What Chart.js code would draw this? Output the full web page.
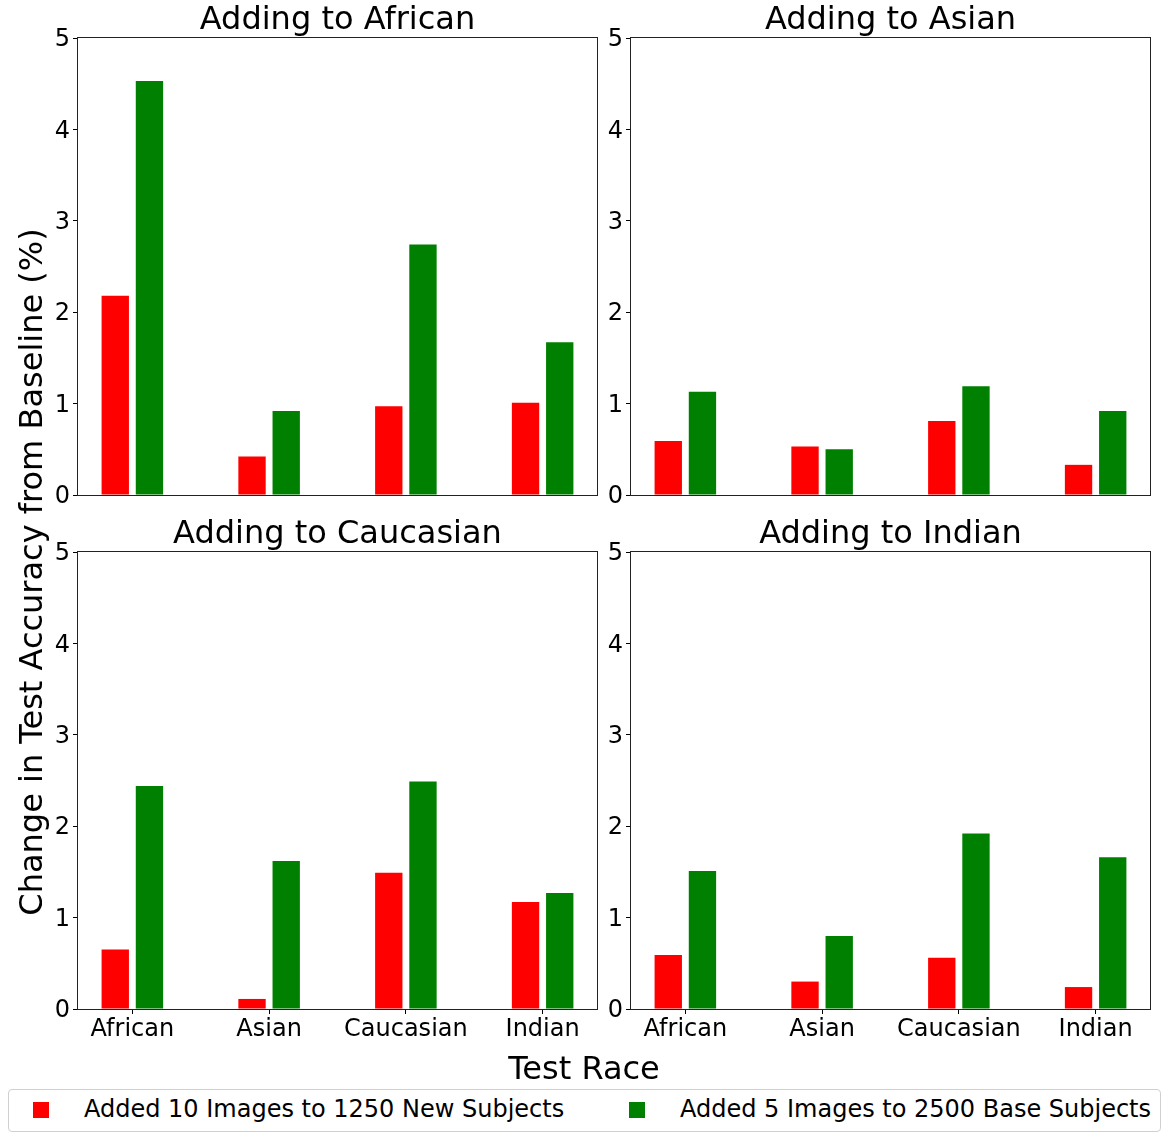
<!DOCTYPE html>
<html>
<head>
<meta charset="utf-8">
<script src="https://cdn.jsdelivr.net/npm/chart.js@4.4.0/dist/chart.umd.min.js"></script>
<style>
  html, body { margin: 0; padding: 0; background: #fff; overflow: hidden; }
  body { width: 1168px; height: 1144px; position: relative; font-family: 'DejaVu Sans', sans-serif; color: #000; }
  canvas { position: absolute; }
  .txt { position: absolute; white-space: nowrap; }
  #ylabel { font-size: 32px; line-height: 32px; width: 800px; text-align: center; left: -369px; top: 556px; transform: rotate(-90deg); }
  #xlabel { font-size: 32px; line-height: 32px; width: 400px; text-align: center; left: 384px; top: 1052px; }
  #legend { position: absolute; left: 8px; top: 1089px; width: 1151px; height: 41px; border: 1px solid #d0d0d0; border-radius: 4px; }
  .swatch { position: absolute; width: 16px; height: 16px; top: 12px; }
  .legtxt { position: absolute; top: 7px; font-size: 24px; line-height: 24px; white-space: nowrap; }
</style>
</head>
<body>
<canvas id="c0"></canvas>
<canvas id="c1"></canvas>
<canvas id="c2"></canvas>
<canvas id="c3"></canvas>
<div class="txt" id="ylabel">Change in Test Accuracy from Baseline (%)</div>
<div class="txt" id="xlabel">Test Race</div>
<div id="legend"></div>
<script>
// categories and labels
const testRaces = ['African', 'Asian', 'Caucasian', 'Indian'];
const panelTitles = ['Adding to African', 'Adding to Asian', 'Adding to Caucasian', 'Adding to Indian'];
const seriesNames = ['Added 10 Images to 1250 New Subjects', 'Added 5 Images to 2500 Base Subjects'];
const seriesColors = ['#ff0000', '#008000'];
const yTicks = [0, 1, 2, 3, 4, 5];

// change in accuracy (%) per panel
const africanNew = [2.18, 0.42, 0.97, 1.01];
const africanBase = [4.53, 0.92, 2.74, 1.67];
const asianNew = [0.59, 0.53, 0.81, 0.33];
const asianBase = [1.13, 0.50, 1.19, 0.92];
const caucasianNew = [0.65, 0.11, 1.49, 1.17];
const caucasianBase = [2.44, 1.62, 2.49, 1.27];
const indianNew = [0.59, 0.30, 0.56, 0.24];
const indianBase = [1.51, 0.80, 1.92, 1.66];

Chart.defaults.font.family = "'DejaVu Sans', sans-serif";
Chart.defaults.color = '#000';

const PLOT_W = 519, PLOT_H = 457, SIDE = 70, TITLE_H = 38;

const panels = [
  { id: 'c0', title: panelTitles[0], data: [africanNew, africanBase], left: 78, top: 38, showX: false },
  { id: 'c1', title: panelTitles[1], data: [asianNew, asianBase], left: 631, top: 38, showX: false },
  { id: 'c2', title: panelTitles[2], data: [caucasianNew, caucasianBase], left: 78, top: 552, showX: true },
  { id: 'c3', title: panelTitles[3], data: [indianNew, indianBase], left: 631, top: 552, showX: true }
];

// box around each plot area
const framePlugin = {
  id: 'frame',
  afterDraw(chart) {
    const a = chart.chartArea;
    const ctx = chart.ctx;
    ctx.save();
    ctx.strokeStyle = '#222';
    ctx.lineWidth = 1;
    ctx.strokeRect(a.left - 0.5, a.top - 0.5, a.right - a.left + 1, a.bottom - a.top + 1);
    ctx.restore();
  }
};

panels.forEach(p => {
  const canvas = document.getElementById(p.id);
  const bottomPad = p.showX ? 5 : 20;
  const w = SIDE + PLOT_W + SIDE;
  const h = TITLE_H + PLOT_H + (p.showX ? 45 : 20);
  canvas.width = w;
  canvas.height = h;
  canvas.style.left = (p.left - SIDE) + 'px';
  canvas.style.top = (p.top - TITLE_H) + 'px';

  new Chart(canvas, {
    type: 'bar',
    data: {
      datasets: p.data.map((vals, k) => ({
        label: seriesNames[k],
        data: vals.map((v, i) => ({ x: i, y: v })),
        backgroundColor: seriesColors[k],
        borderWidth: 0,
        categoryPercentage: 0.5,
        barPercentage: 0.8
      }))
    },
    options: {
      responsive: false,
      animation: false,
      layout: { padding: { left: 0, right: 0, top: 0, bottom: bottomPad } },
      plugins: {
        legend: { display: false },
        tooltip: { enabled: false },
        title: {
          display: true,
          text: p.title,
          color: '#000',
          font: { size: 32, weight: 'normal', lineHeight: 1 },
          padding: { top: 4.5, bottom: 1.5 }
        }
      },
      scales: {
        x: {
          type: 'linear',
          min: -0.3975,
          max: 3.3975,
          offset: false,
          display: p.showX,
          afterBuildTicks: s => { s.ticks = testRaces.map((_, i) => ({ value: i })); },
          afterFit: s => { if (p.showX) s.height = 40; },
          ticks: {
            callback: v => testRaces[v],
            font: { size: 24 },
            color: '#000',
            padding: 1,
            maxRotation: 0,
            autoSkip: false
          },
          grid: { offset: false, drawOnChartArea: false, drawTicks: true, tickLength: 5, tickColor: '#000' },
          border: { display: false }
        },
        y: {
          min: 0,
          max: 5,
          afterBuildTicks: s => { s.ticks = yTicks.map(v => ({ value: v })); },
          afterFit: s => { s.width = SIDE; },
          ticks: { font: { size: 24 }, color: '#000', padding: 3, labelOffset: 2 },
          grid: { drawOnChartArea: false, drawTicks: true, tickLength: 5, tickColor: '#000' },
          border: { display: false }
        },
        // empty right-hand axis keeps the plot and title centred in the canvas
        yRight: {
          type: 'linear',
          position: 'right',
          display: true,
          ticks: { display: false },
          grid: { display: false, drawTicks: false },
          border: { display: false },
          afterFit: s => { s.width = SIDE; }
        }
      }
    },
    plugins: [framePlugin]
  });
});

// legend below the figure
const legend = document.getElementById('legend');
const legendX = [[24, 75], [620, 671]];
seriesNames.forEach((name, k) => {
  const sw = document.createElement('div');
  sw.className = 'swatch';
  sw.style.left = legendX[k][0] + 'px';
  sw.style.background = seriesColors[k];
  legend.appendChild(sw);
  const t = document.createElement('div');
  t.className = 'legtxt';
  t.style.left = legendX[k][1] + 'px';
  t.textContent = name;
  legend.appendChild(t);
});
</script>
</body>
</html>
